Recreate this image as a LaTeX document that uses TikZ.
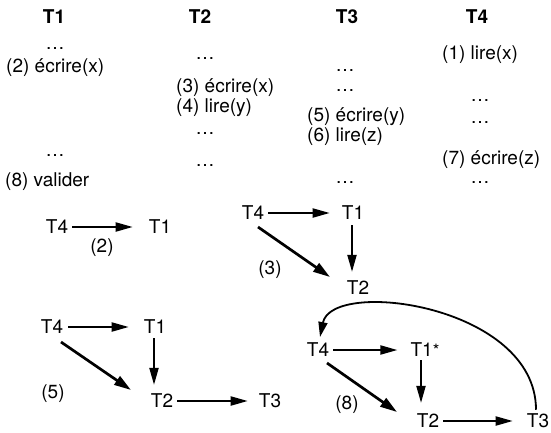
\documentclass[tikz,border=0pt]{standalone}
\usepackage{fontspec}
\setmainfont{TeX Gyre Heros}
\usetikzlibrary{arrows.meta,calc}
\begin{document}
\begin{tikzpicture}[x=1pt,y=-1pt,
  every node/.style={font=\fontsize{19}{22}\selectfont, inner sep=2pt},
  hdr/.style={font=\fontsize{19}{22}\selectfont\bfseries},
  line/.style={anchor=west, inner sep=0pt},
  ell/.style={anchor=base, inner sep=0pt},
  arr/.style={-{Triangle[length=17pt,width=9pt]}, line width=2pt},
  darr/.style={-{Triangle[length=17pt,width=10pt]}, line width=2.7pt},
  carr/.style={-{Triangle[length=15pt,width=9pt]}, line width=1.8pt}]
\useasboundingbox (0,0) rectangle (551,432);

% headers
\node[hdr] (h1) at (54,17) {T1};
\node[hdr] (h2) at (200,17) {T2};
\node[hdr] (h3) at (347,17) {T3};
\node[hdr] (h4) at (477,17) {T4};

% column T1
\node[ell] (e11) at (55,49) {…};
\node[line] (l12) at (6,68) {(2) écrire(x)};
\node[ell] (e13) at (55,156) {…};
\node[line] (l18) at (5,182) {(8) valider};

% column T2
\node[ell] (e21) at (205,59) {…};
\node[line] (l23) at (176,88) {(3) écrire(x)};
\node[line] (l24) at (176,108) {(4) lire(y)};
\node[ell] (e22) at (205,134) {…};
\node[ell] (e23) at (205,166) {…};

% column T3
\node[ell] (e31) at (345,71) {…};
\node[ell] (e32) at (345,91) {…};
\node[line] (l35) at (307,117) {(5) écrire(y)};
\node[line] (l36) at (307,137) {(6) lire(z)};
\node[ell] (e33) at (345,183) {…};

% column T4
\node[line] (l41) at (442,55) {(1) lire(x)};
\node[ell] (e41) at (480,101) {…};
\node[ell] (e42) at (480,123) {…};
\node[line] (l47) at (442,160) {(7) écrire(z)};
\node[ell] (e43) at (480,183) {…};

% graph (2)
\node (a4) at (57,227) {T4};
\node (a1) at (160,227) {T1};
\node (la) at (102,248) {(2)};
\draw[arr, shorten <=2pt, shorten >=14pt] (a4) -- (a1);

% graph (3)
\node (b4) at (253,213) {T4};
\node (b1) at (353,213) {T1};
\node (b2) at (358,288) {T2};
\node (lb) at (270,270) {(3)};
\draw[arr, shorten <=2pt, shorten >=10pt] (b4) -- (b1);
\coordinate (b1s) at ($(b1.south)+(-1,0)$);
\draw[arr, shorten <=3pt, shorten >=7pt] (b1s) -- (b1s |- b2.north);
\draw[darr] ($(b4)+(5,14)$) -- ($(b2)+(-28,-11)$);

% graph (5)
\node (c4) at (52,327) {T4};
\node (c1) at (155,327) {T1};
\node (c2) at (162,401) {T2};
\node (c3) at (270,401) {T3};
\node (lc) at (53,394) {(5)};
\draw[arr, shorten <=3pt, shorten >=13pt] (c4) -- (c1);
\coordinate (c1s) at ($(c1.south)+(-1,0)$);
\draw[arr, shorten <=2pt, shorten >=7pt] (c1s) -- (c1s |- c2.north);
\draw[arr, shorten <=2pt, shorten >=9pt] (c2) -- (c3);
\draw[darr] ($(c4)+(9,15)$) -- ($(c2)+(-31,-11)$);

% graph (8)
\node (d4) at (318,350) {T4};
\node (d1) at (425,350) {T1{\fontsize{17}{17}\selectfont *}};
\node (d2) at (428,421) {T2};
\node (d3) at (538,421) {T3};
\node (ld) at (347,405) {(8)};
\draw[arr, shorten <=2pt, shorten >=11pt] (d4) -- (d1);
\coordinate (d1s) at ($(d1.south)+(-4,0)$);
\draw[arr, shorten <=1pt, shorten >=9pt] (d1s) -- (d1s |- d2.north);
\draw[arr, shorten <=2pt, shorten >=12pt] (d2) -- (d3);
\draw[darr] ($(d4)+(9,13)$) -- ($(d2)+(-31,-9)$);
\draw[carr] ($(d3.north)+(-2,-2)$) .. controls ($(d3)+(-2,-116)$) and ($(d4)+(14,-72)$) .. ($(d4)+(2,-13)$);
\end{tikzpicture}
\end{document}
